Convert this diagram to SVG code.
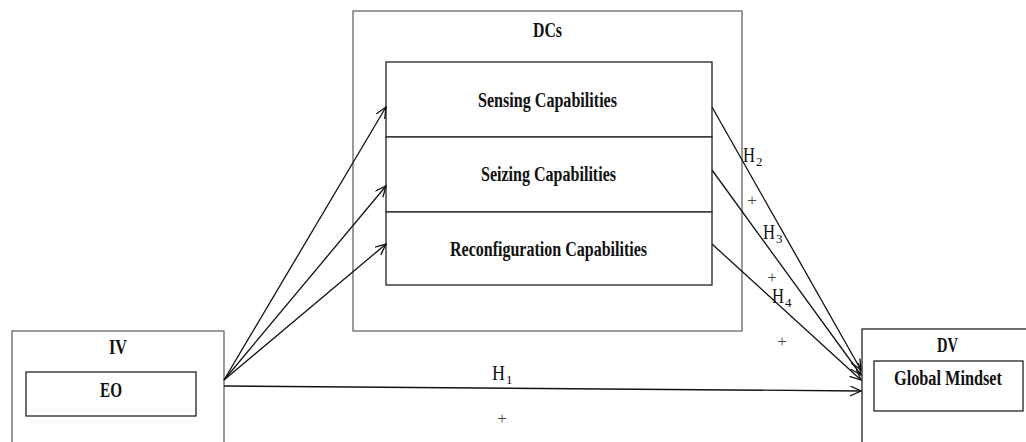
<svg xmlns="http://www.w3.org/2000/svg" width="1026" height="442" viewBox="0 0 1026 442">
<style>
.box{fill:#fff;stroke:#222;stroke-width:1.3}
.gbox{fill:#fff;stroke:#666;stroke-width:1.3}
.t{font-family:"Liberation Serif","Times New Roman",serif;font-weight:bold;font-size:20px;fill:#111;text-anchor:middle}
.h{font-family:"Liberation Serif","Times New Roman",serif;font-size:20px;fill:#111}
.s{font-size:13px}
.p{font-family:"Liberation Serif","Times New Roman",serif;font-size:17px;fill:#444;text-anchor:middle}
.c{stroke:#111;stroke-width:1.3;fill:none;marker-end:url(#a)}
</style>
<defs>
<marker id="a" markerUnits="userSpaceOnUse" markerWidth="14" markerHeight="12" refX="11" refY="5" orient="auto">
<path d="M0,0 L11,5 L0,10" fill="none" stroke="#111" stroke-width="1.3"/>
</marker>
</defs>
<rect width="1026" height="442" fill="#fff"/>
<g id="dcs">
<rect class="gbox" x="353" y="11" width="389" height="320"/>
<text class="t" x="547.5" y="37" textLength="29" lengthAdjust="spacingAndGlyphs">DCs</text>
</g>
<g id="sensing">
<rect class="box" x="386" y="62" width="326" height="75"/>
<text class="t" x="547.5" y="107" textLength="139" lengthAdjust="spacingAndGlyphs">Sensing Capabilities</text>
</g>
<g id="seizing">
<rect class="box" x="386" y="137" width="326" height="75"/>
<text class="t" x="548.5" y="181" textLength="135" lengthAdjust="spacingAndGlyphs">Seizing Capabilities</text>
</g>
<g id="reconfiguration">
<rect class="box" x="386" y="212" width="326" height="73"/>
<text class="t" x="548.5" y="256" textLength="197" lengthAdjust="spacingAndGlyphs">Reconfiguration Capabilities</text>
</g>
<g id="iv">
<rect class="gbox" x="12" y="331" width="212" height="130"/>
<text class="t" x="118" y="354" textLength="18" lengthAdjust="spacingAndGlyphs">IV</text>
</g>
<g id="eo">
<rect class="box" x="26" y="372" width="170" height="44"/>
<text class="t" x="111" y="397" textLength="22" lengthAdjust="spacingAndGlyphs">EO</text>
</g>
<g id="dv">
<rect class="box" x="862" y="329" width="180" height="130"/>
<text class="t" x="947.5" y="352" textLength="21" lengthAdjust="spacingAndGlyphs">DV</text>
</g>
<g id="global-mindset">
<rect class="box" x="874" y="361" width="149" height="50"/>
<text class="t" x="948" y="385" textLength="108" lengthAdjust="spacingAndGlyphs">Global Mindset</text>
</g>
<g id="connectors">
<line class="c" x1="224" y1="380" x2="386" y2="107"/>
<line class="c" x1="224" y1="380" x2="386" y2="186"/>
<line class="c" x1="224" y1="380" x2="386" y2="244"/>
<line class="c" x1="224" y1="386" x2="861" y2="391"/>
<line class="c" x1="712" y1="107" x2="861" y2="370"/>
<line class="c" x1="712" y1="170" x2="861" y2="375"/>
<line class="c" x1="712" y1="244" x2="861" y2="380"/>
</g>
<g id="labels">
<text class="h" x="743" y="162" textLength="12" lengthAdjust="spacingAndGlyphs">H</text><text class="h s" x="756" y="166">2</text>
<text class="p" x="752" y="206">+</text>
<text class="h" x="763" y="239" textLength="12" lengthAdjust="spacingAndGlyphs">H</text><text class="h s" x="776" y="243">3</text>
<text class="p" x="772" y="283">+</text>
<text class="h" x="772" y="303" textLength="12" lengthAdjust="spacingAndGlyphs">H</text><text class="h s" x="785" y="307">4</text>
<text class="p" x="782" y="347">+</text>
<text class="h" x="492" y="380" textLength="13" lengthAdjust="spacingAndGlyphs">H</text><text class="h s" x="506" y="384">1</text>
<text class="p" x="502" y="424">+</text>
</g>
</svg>
